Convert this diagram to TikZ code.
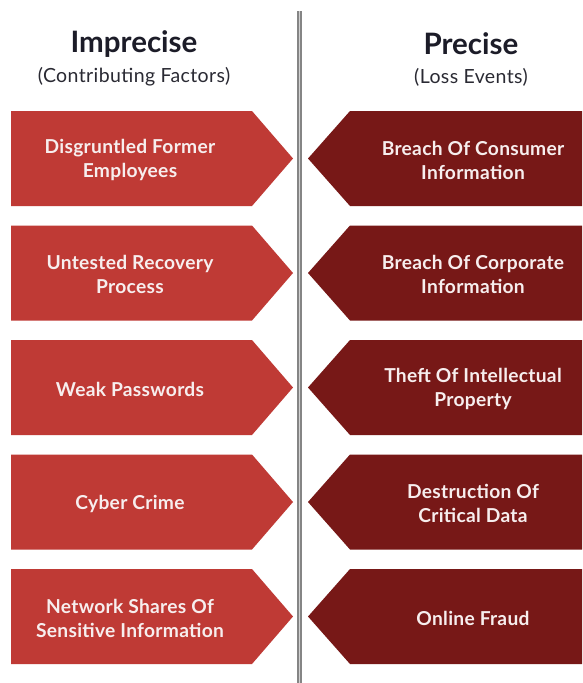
\documentclass[tikz,border=0pt]{standalone}
\usepackage{fontspec}
\setmainfont{Lato}
\definecolor{factorred}{HTML}{BF3A35}
\definecolor{eventred}{HTML}{771817}
\definecolor{headink}{HTML}{1C1C28}
\definecolor{subink}{HTML}{2A2A33}
\definecolor{boxink}{HTML}{F7EEEE}
\begin{document}
\begin{tikzpicture}[x=1pt,y=-1pt,
  heading/.style={font=\fontsize{29.5}{33}\selectfont\bfseries, text=headink, inner sep=0pt},
  subheading/.style={font=\fontsize{19.5}{23}\selectfont\addfontfeatures{LetterSpace=2}, text=subink, inner sep=0pt},
  boxlabel/.style={font=\fontsize{19.2}{24}\selectfont\bfseries\addfontfeatures{LetterSpace=1.5}, text=boxink, align=center, inner sep=0pt},
  factor/.style={fill=factorred},
  event/.style={fill=eventred}]
  \useasboundingbox (0,0) rectangle (582,683);
  \fill[white] (0,0) rectangle (582,683);

  % column headings
  \node[heading]    (hl) at (134,44) {Imprecise};
  \node[subheading] (sl) at (134,77) {(Contributing Factors)};
  \node[heading]    (hr) at (471,44) {Precise};
  \node[subheading] (sr) at (471,77) {(Loss Events)};

  % central divider
  \coordinate (dtop) at (299.5,11);
  \coordinate (dbot) at (299.5,683);
  \draw[line width=4.2pt, color=black!48] (dtop) -- (dbot);
  \draw[line width=1.2pt, color=black!18] (dtop) -- (dbot);

  % paired rows: contributing factor (left) and loss event (right)
  \foreach \i/\lt/\rt in {
      0/{Disgruntled Former\\Employees}/{Breach Of Consumer\\Information},
      1/{Untested Recovery\\Process}/{Breach Of Corporate\\Information},
      2/{Weak Passwords}/{Theft Of Intellectual\\Property},
      3/{Cyber Crime}/{Destruction Of\\Critical Data},
      4/{Network Shares Of\\Sensitive Information}/{Online Fraud}} {
    \pgfmathsetmacro{\t}{111+114.5*\i}
    \fill[factor] (11,\t) -- (252,\t) -- (293,\t+47.5) -- (252,\t+95)
      -- (11,\t+95) -- cycle;
    \fill[event] (582,\t) -- (350,\t) -- (308,\t+47.5) -- (350,\t+95)
      -- (582,\t+95) -- cycle;
    \node[boxlabel] (f\i) at (130,\t+49) {\lt};
    \node[boxlabel] (e\i) at (473,\t+49) {\rt};
  }
\end{tikzpicture}
\end{document}
